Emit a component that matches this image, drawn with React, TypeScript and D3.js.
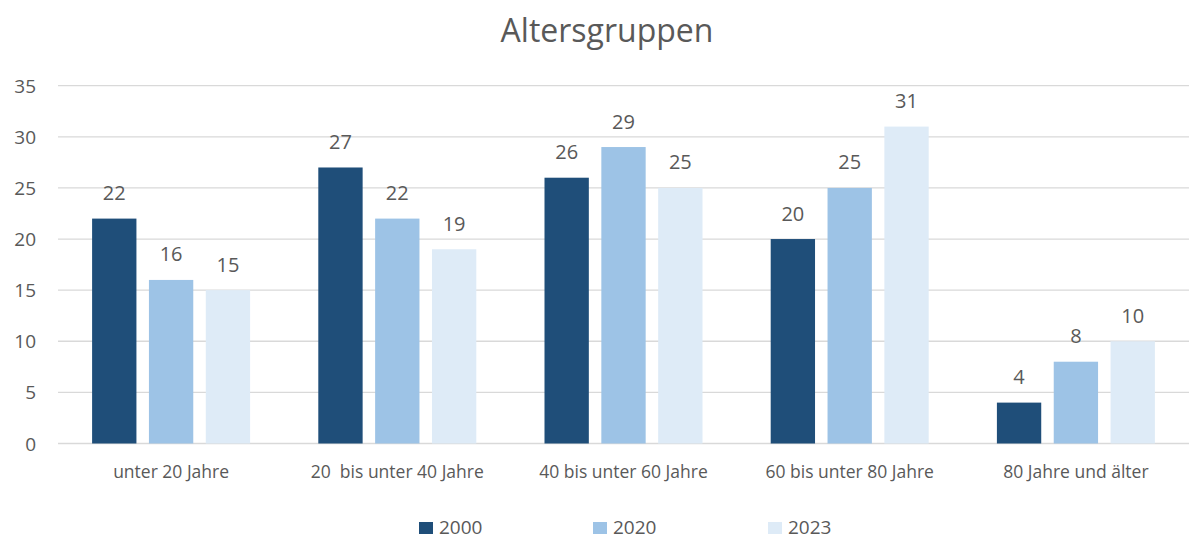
import React from "react";
import * as d3 from "d3";

const categories = ["unter 20 Jahre", "20  bis unter 40 Jahre", "40 bis unter 60 Jahre", "60 bis unter 80 Jahre", "80 Jahre und älter"];
const seriesNames = ["2000", "2020", "2023"];
const values2000 = [22, 27, 26, 20, 4];
const values2020 = [16, 22, 29, 25, 8];
const values2023 = [15, 19, 25, 31, 10];
const yTicks = [0, 5, 10, 15, 20, 25, 30, 35];
const colors = ["#1F4E79", "#9DC3E6", "#DEEBF7"];

const W = 1203, H = 540;
const font = "'Open Sans', 'Liberation Sans', sans-serif";
const textColor = "#595959";

export default function App() {
  const series = [values2000, values2020, values2023];
  const x0 = d3.scaleBand().domain(categories).range([58, 1189]).paddingInner(0).paddingOuter(0);
  const x1 = d3.scaleBand().domain(seriesNames).range([0, x0.bandwidth()]).paddingInner(0.22).paddingOuter(0.6);
  const y = d3.scaleLinear().domain([0, 35]).range([443.5, 85.7]);
  const legendX = [419, 593, 768];

  return (
    <svg width={W} height={H} style={{ position: "absolute", left: 0, top: 0, background: "#fff" }}>
      <text x={607} y={42} textAnchor="middle" fontFamily={font} fontSize={32} fill={textColor}>Altersgruppen</text>
      {yTicks.map((t) => (
        <g key={t}>
          <line x1={58} x2={1189} y1={y(t)} y2={y(t)} stroke="#D9D9D9" strokeWidth={1.3} />
          <text x={36} y={y(t) + 7} textAnchor="end" fontFamily={font} fontSize={19} fill={textColor}>{t}</text>
        </g>
      ))}
      {categories.map((c, i) => (
        <g key={c} transform={`translate(${x0(c)},0)`}>
          {seriesNames.map((s, j) => {
            const v = series[j][i];
            const bx = x1(s)!;
            return (
              <g key={s}>
                <rect x={bx} y={y(v)} width={x1.bandwidth()} height={y(0) - y(v)} fill={colors[j]} />
                <text x={bx + x1.bandwidth() / 2} y={y(v) - 18.5} textAnchor="middle" fontFamily={font} fontSize={20} fill={textColor}>{v}</text>
              </g>
            );
          })}
          <text x={x0.bandwidth() / 2} y={477.5} textAnchor="middle" fontFamily={font} fontSize={17.5} fill={textColor} style={{ whiteSpace: "pre" }}>{c}</text>
        </g>
      ))}
      {seriesNames.map((s, j) => (
        <g key={s}>
          <rect x={legendX[j]} y={522} width={14} height={12} fill={colors[j]} />
          <text x={legendX[j] + 20} y={533.5} fontFamily={font} fontSize={19} fill={textColor}>{s}</text>
        </g>
      ))}
    </svg>
  );
}
